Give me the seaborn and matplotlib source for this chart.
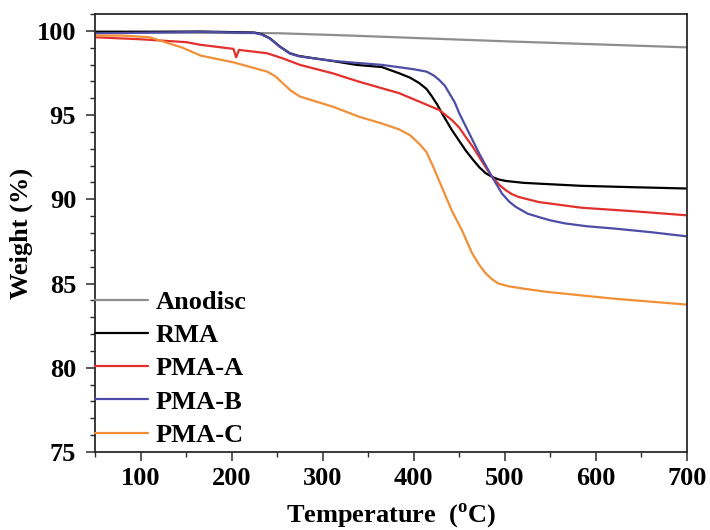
import matplotlib
matplotlib.use("Agg")
import matplotlib.pyplot as plt
import pandas as pd
import seaborn as sns
from matplotlib.ticker import MultipleLocator

# Thermogravimetric curves: temperature (deg C) and remaining weight (%)
anodisc_t = [50, 250, 330, 500, 600, 700]
anodisc_w = [99.92, 99.86, 99.72, 99.38, 99.2, 99.02]

rma_t = [50, 120, 166, 225, 233, 242, 253, 264, 273, 283, 311, 337, 365, 384,
         396, 406, 414, 420, 426, 431, 442, 457, 465, 472, 479, 486, 493, 501,
         520, 537, 584, 640, 700]
rma_w = [99.95, 99.95, 99.96, 99.9, 99.8, 99.56, 99.07, 98.67, 98.52, 98.43,
         98.21, 97.98, 97.85, 97.48, 97.22, 96.9, 96.55, 96.1, 95.6, 95.1, 94.1,
         92.9, 92.35, 91.9, 91.55, 91.33, 91.18, 91.09, 90.98, 90.93, 90.8,
         90.72, 90.64]

pmab_t = [50, 120, 166, 225, 233, 242, 253, 264, 273, 283, 311, 337, 365, 384,
          400, 414, 422, 428, 434, 439, 445, 450, 461, 472, 486, 497, 505, 512,
          525, 537, 550, 566, 590, 621, 660, 700]
pmab_w = [99.85, 99.9, 99.94, 99.88, 99.78, 99.54, 99.05, 98.65, 98.5, 98.42,
          98.22, 98.1, 97.98, 97.84, 97.72, 97.58, 97.35, 97.08, 96.75, 96.3,
          95.75, 95.1, 93.9, 92.7, 91.33, 90.33, 89.85, 89.55, 89.15, 88.95,
          88.75, 88.57, 88.4, 88.26, 88.05, 87.8]

pmaa_t = [50, 100, 150, 166, 202, 205, 208, 239, 256, 275, 311, 340, 384, 406,
          428, 442, 450, 457, 465, 472, 479, 486, 494, 501, 508, 515, 537, 584,
          639, 700]
pmaa_w = [99.62, 99.5, 99.33, 99.17, 98.93, 98.43, 98.87, 98.67, 98.37, 97.98,
          97.48, 96.98, 96.3, 95.8, 95.3, 94.7, 94.25, 93.7, 93.1, 92.5, 91.9,
          91.33, 90.85, 90.54, 90.3, 90.14, 89.84, 89.5, 89.3, 89.05]

pmac_t = [50, 80, 110, 146, 166, 202, 239, 248, 256, 265, 275, 311, 340, 365,
          384, 396, 406, 414, 420, 431, 442, 453, 464, 472, 479, 486, 493, 504,
          520, 547, 620, 700]
pmac_w = [99.72, 99.72, 99.62, 99.0, 98.53, 98.13, 97.58, 97.3, 96.9, 96.45,
          96.1, 95.5, 94.9, 94.5, 94.15, 93.8, 93.3, 92.8, 92.1, 90.7, 89.3,
          88.15, 86.8, 86.1, 85.6, 85.25, 85.0, 84.84, 84.7, 84.5, 84.1, 83.75]

samples = ["Anodisc", "RMA", "PMA-A", "PMA-B", "PMA-C"]
series = {
    "Anodisc": (anodisc_t, anodisc_w),
    "RMA": (rma_t, rma_w),
    "PMA-A": (pmaa_t, pmaa_w),
    "PMA-B": (pmab_t, pmab_w),
    "PMA-C": (pmac_t, pmac_w),
}
colors = {
    "Anodisc": "#8e8e8e",
    "RMA": "#000000",
    "PMA-A": "#e3302c",
    "PMA-B": "#4d4ca6",
    "PMA-C": "#f29038",
}

frames = [pd.DataFrame({"Temperature": t, "Weight": w, "Sample": name})
          for name, (t, w) in series.items()]
df = pd.concat(frames, ignore_index=True)

sns.set_theme(style="ticks")
plt.rcParams["font.family"] = ["Liberation Serif", "DejaVu Serif"]
plt.rcParams["font.weight"] = "bold"
plt.rcParams["text.color"] = "black"
plt.rcParams["axes.labelcolor"] = "black"
plt.rcParams["xtick.color"] = "black"
plt.rcParams["ytick.color"] = "black"
plt.rcParams["mathtext.fontset"] = "custom"
plt.rcParams["mathtext.rm"] = "Liberation Serif:bold"
plt.rcParams["mathtext.bf"] = "Liberation Serif:bold"

fig = plt.figure(figsize=(7.1, 5.3), dpi=100)
ax = fig.add_axes([95 / 710, 78 / 530, 592 / 710, 438 / 530])

sns.lineplot(data=df, x="Temperature", y="Weight", hue="Sample",
             hue_order=samples, palette=colors, sort=False, estimator=None,
             linewidth=1.6, ax=ax)

ax.set_xlim(50, 700)
ax.set_ylim(75, 101)
ax.xaxis.set_major_locator(MultipleLocator(100))
ax.xaxis.set_minor_locator(MultipleLocator(50))
ax.yaxis.set_major_locator(MultipleLocator(5))
ax.yaxis.set_minor_locator(MultipleLocator(1))

for side in ["left", "right", "top", "bottom"]:
    ax.spines[side].set_visible(True)
    ax.spines[side].set_color("#2a2a2a")
    ax.spines[side].set_linewidth(1.3)

ax.tick_params(which="major", direction="out", length=6.5, width=1.1,
               labelsize=19, color="#2a2a2a", labelcolor="black",
               top=False, right=False)
ax.tick_params(which="minor", direction="out", length=3.3, width=1.0,
               color="#2a2a2a", top=False, right=False)
ax.tick_params(axis="y", which="major", pad=7)
ax.tick_params(axis="x", which="major", pad=4)
for lab in ax.get_xticklabels() + ax.get_yticklabels():
    lab.set_fontweight("bold")

ax.set_xlabel(r"Temperature  ($^{\rm o}$C)", fontsize=19, fontweight="bold",
              labelpad=8, color="black")
ax.set_ylabel("Weight (%)", fontsize=19, fontweight="bold", labelpad=3,
              color="black")

handles, labels = ax.get_legend_handles_labels()
leg = ax.legend(handles, labels, loc="lower left", bbox_to_anchor=(0.0, 0.012),
                frameon=False, handlelength=2.0, handletextpad=0.3,
                labelspacing=0.37, borderpad=0, borderaxespad=0,
                prop={"weight": "bold", "size": 19})
for txt in leg.get_texts():
    txt.set_color("black")

fig.savefig("out.png", dpi=100)
